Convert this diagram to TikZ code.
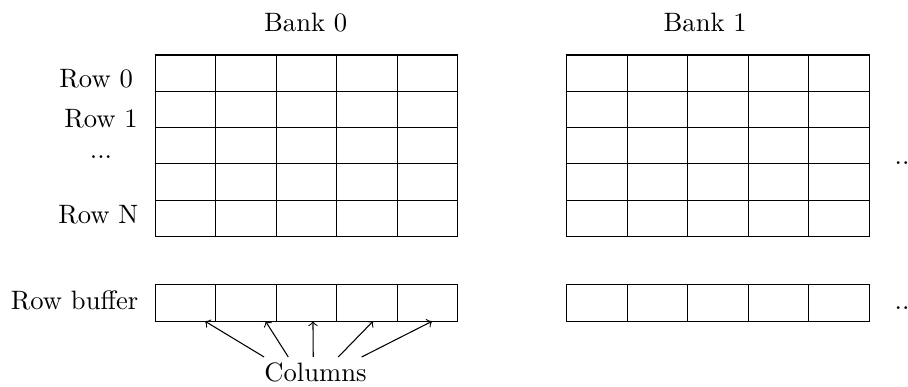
\documentclass[tikz,border=0pt]{standalone}
\begin{document}
\begin{tikzpicture}[
        cel/.style={draw, minimum width=0.8cm, minimum height=0.48cm, inner sep=0pt, outer sep=0pt, anchor=north west},
        rotulo/.style={inner sep=2pt}]
        \useasboundingbox (0,0) rectangle (12,-5.114);
        \node (bank0) at (4.04,-0.30) {Bank 0};
        \node (bank1) at (9.32,-0.30) {Bank 1};
        \foreach \bx/\bk in {2.05/0, 7.49/1}{
            \foreach \col in {1,...,5}{
                \foreach \lin in {1,...,5}{
                    \node[cel] (m\bk-\lin-\col) at ({\bx+(\col-1)*0.8},{-0.727-(\lin-1)*0.48}) {};
                }
                \node[cel] (rb\bk-\col) at ({\bx+(\col-1)*0.8},-3.766) {};
            }
        }
        \node (lr0) at (1.27,-1.044) {Row 0};
        \node (lr1) at (1.335,-1.566) {Row 1};
        \node (lrd) at (1.335,-2.075) {...};
        \node (lrN) at (1.30,-2.835) {Row N};
        \node (lrb) at (0.985,-3.965) {Row buffer};
        \node[anchor=west] (mais0) at (11.70,-2.154) {...};
        \node[anchor=west] (mais1) at (11.70,-4.07) {...};
        \node[rotulo, anchor=north] (cols) at (4.17,-4.718) {Columns};
        \foreach \k/\s/\e in {1/-0.68/0.26, 2/-0.36/0.26, 3/-0.03/0.086, 4/0.30/0.08, 5/0.61/0.06}
            \draw[->] ([xshift=\s cm]cols.north) -- ([xshift=\e cm]rb0-\k.south);
    \end{tikzpicture}
\end{document}
